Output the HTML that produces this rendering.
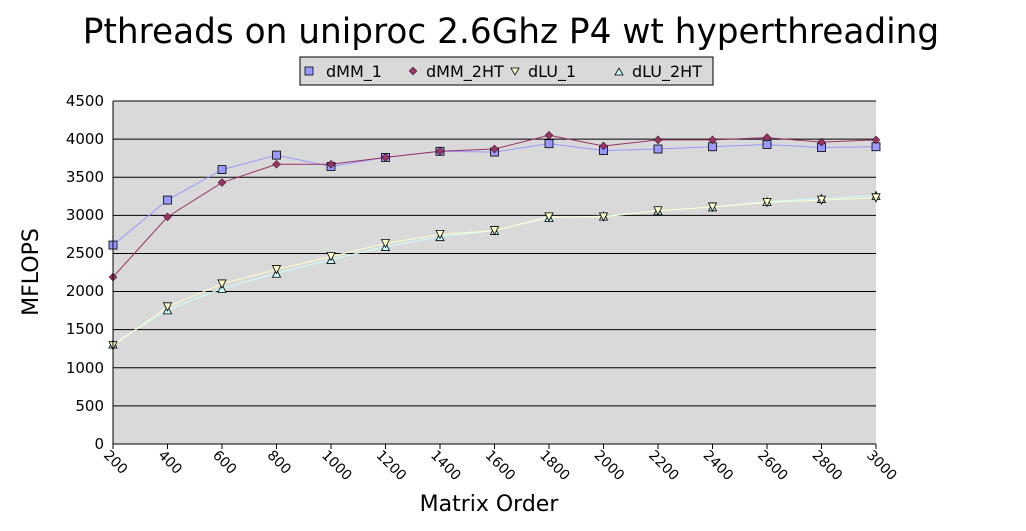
<!DOCTYPE html>
<html><head><meta charset="utf-8"><style>html,body{margin:0;padding:0;background:#fff}svg{display:block}</style></head>
<body>
<svg id="s" width="1026" height="531" xmlns="http://www.w3.org/2000/svg" font-family="Liberation Sans, DejaVu Sans, sans-serif">
<rect x="0" y="0" width="1026" height="531" fill="#fff"/>
<text x="511" y="43" font-size="34.3" text-anchor="middle" font-family="DejaVu Sans, sans-serif">Pthreads on uniproc 2.6Ghz P4 wt hyperthreading</text>
<rect x="300" y="57" width="413" height="28" fill="#d9d9d9" stroke="#000" stroke-width="1"/>
<rect x="305" y="67" width="8" height="8" fill="#9999ff" stroke="#000" stroke-width="0.8"/>
<text x="326" y="77" font-size="16" font-family="DejaVu Sans, sans-serif">dMM_1</text>
<polygon points="413,67 417,71 413,75 409,71" fill="#993366" stroke="#000" stroke-width="0.5"/>
<text x="426" y="77" font-size="16" font-family="DejaVu Sans, sans-serif">dMM_2HT</text>
<polygon points="511,68 519,68 515,75" fill="#ffffcc" stroke="#000" stroke-width="0.8"/>
<text x="528" y="77" font-size="16" font-family="DejaVu Sans, sans-serif">dLU_1</text>
<polygon points="615,75 623,75 619,68" fill="#ccffff" stroke="#000" stroke-width="0.8"/>
<text x="632" y="77" font-size="16" font-family="DejaVu Sans, sans-serif">dLU_2HT</text>
<rect x="113" y="101" width="763" height="343" fill="#d9d9d9"/>
<g id="grid"></g>
<g id="series"></g>
<line x1="113" y1="101" x2="113" y2="444" stroke="#000"/>
<line x1="113" y1="444" x2="876" y2="444" stroke="#000"/>
<g font-size="15" font-family="DejaVu Sans, sans-serif" text-anchor="end">
<text x="104" y="106">4500</text><text x="104" y="144">4000</text><text x="104" y="182">3500</text>
<text x="104" y="220">3000</text><text x="104" y="258">2500</text><text x="104" y="296">2000</text>
<text x="104" y="334">1500</text><text x="104" y="373">1000</text><text x="104" y="411">500</text>
<text x="104" y="449">0</text>
</g>
<g id="xl" font-size="14" font-family="DejaVu Sans, sans-serif"></g>
<text x="38" y="272" font-size="22" text-anchor="middle" transform="rotate(-90 38 272)" font-family="DejaVu Sans, sans-serif">MFLOPS</text>
<text x="489" y="511" font-size="22" text-anchor="middle" font-family="DejaVu Sans, sans-serif">Matrix Order</text>
</svg>
<script>
var NS="http://www.w3.org/2000/svg";
function el(t,a,p){var e=document.createElementNS(NS,t);for(var k in a)e.setAttribute(k,a[k]);p.appendChild(e);return e;}
var g=document.getElementById('grid'),S=document.getElementById('series'),xl=document.getElementById('xl');
function Y(v){return 444-v*343/4500;}function X(i){return 113+i*763/14;}
for(var v=500;v<=4500;v+=500)el('line',{x1:113,x2:876,y1:Y(v),y2:Y(v),stroke:'#000','stroke-width':1},g);
for(var i=0;i<15;i++){var x=X(i);el('line',{x1:x,x2:x,y1:444,y2:449,stroke:'#000'},g);
var tx=x-10,ty=456;var t=el('text',{x:tx,y:ty,transform:'rotate(45 '+tx+' '+ty+')'},xl);t.textContent=String(200+200*i);}
var d={
m1:[2610,3200,3600,3790,3640,3760,3840,3830,3940,3850,3870,3900,3930,3890,3900],
m2:[2190,2980,3430,3670,3670,3760,3840,3870,4050,3910,3990,3990,4020,3960,3990],
l1:[1290,1800,2100,2290,2460,2630,2750,2800,2980,2980,3060,3110,3170,3200,3230],
l2:[1310,1760,2040,2240,2420,2590,2720,2800,2970,2990,3060,3110,3180,3220,3260]};
function line(a,c){el('polyline',{points:a.map(function(v,i){return X(i)+','+Y(v)}).join(' '),fill:'none',stroke:c,'stroke-width':1},S);}
line(d.l2,'#ccffff');line(d.l1,'#ffffcc');line(d.m1,'#9999ff');line(d.m2,'#993366');
d.l2.forEach(function(v,i){var x=X(i),y=Y(v);el('polygon',{points:(x-4)+','+(y+4)+' '+(x+4)+','+(y+4)+' '+x+','+(y-4),fill:'#ccffff',stroke:'#000','stroke-width':0.8},S);});
d.l1.forEach(function(v,i){var x=X(i),y=Y(v);el('polygon',{points:(x-4)+','+(y-4)+' '+(x+4)+','+(y-4)+' '+x+','+(y+4),fill:'#ffffcc',stroke:'#000','stroke-width':0.8},S);});
d.m1.forEach(function(v,i){var x=X(i),y=Y(v);el('rect',{x:x-4,y:y-4,width:8,height:8,fill:'#9999ff',stroke:'#000','stroke-width':0.8},S);});
d.m2.forEach(function(v,i){var x=X(i),y=Y(v);el('polygon',{points:x+','+(y-4)+' '+(x+4)+','+y+' '+x+','+(y+4)+' '+(x-4)+','+y,fill:'#993366',stroke:'#000','stroke-width':0.5},S);});
</script>
</body></html>
